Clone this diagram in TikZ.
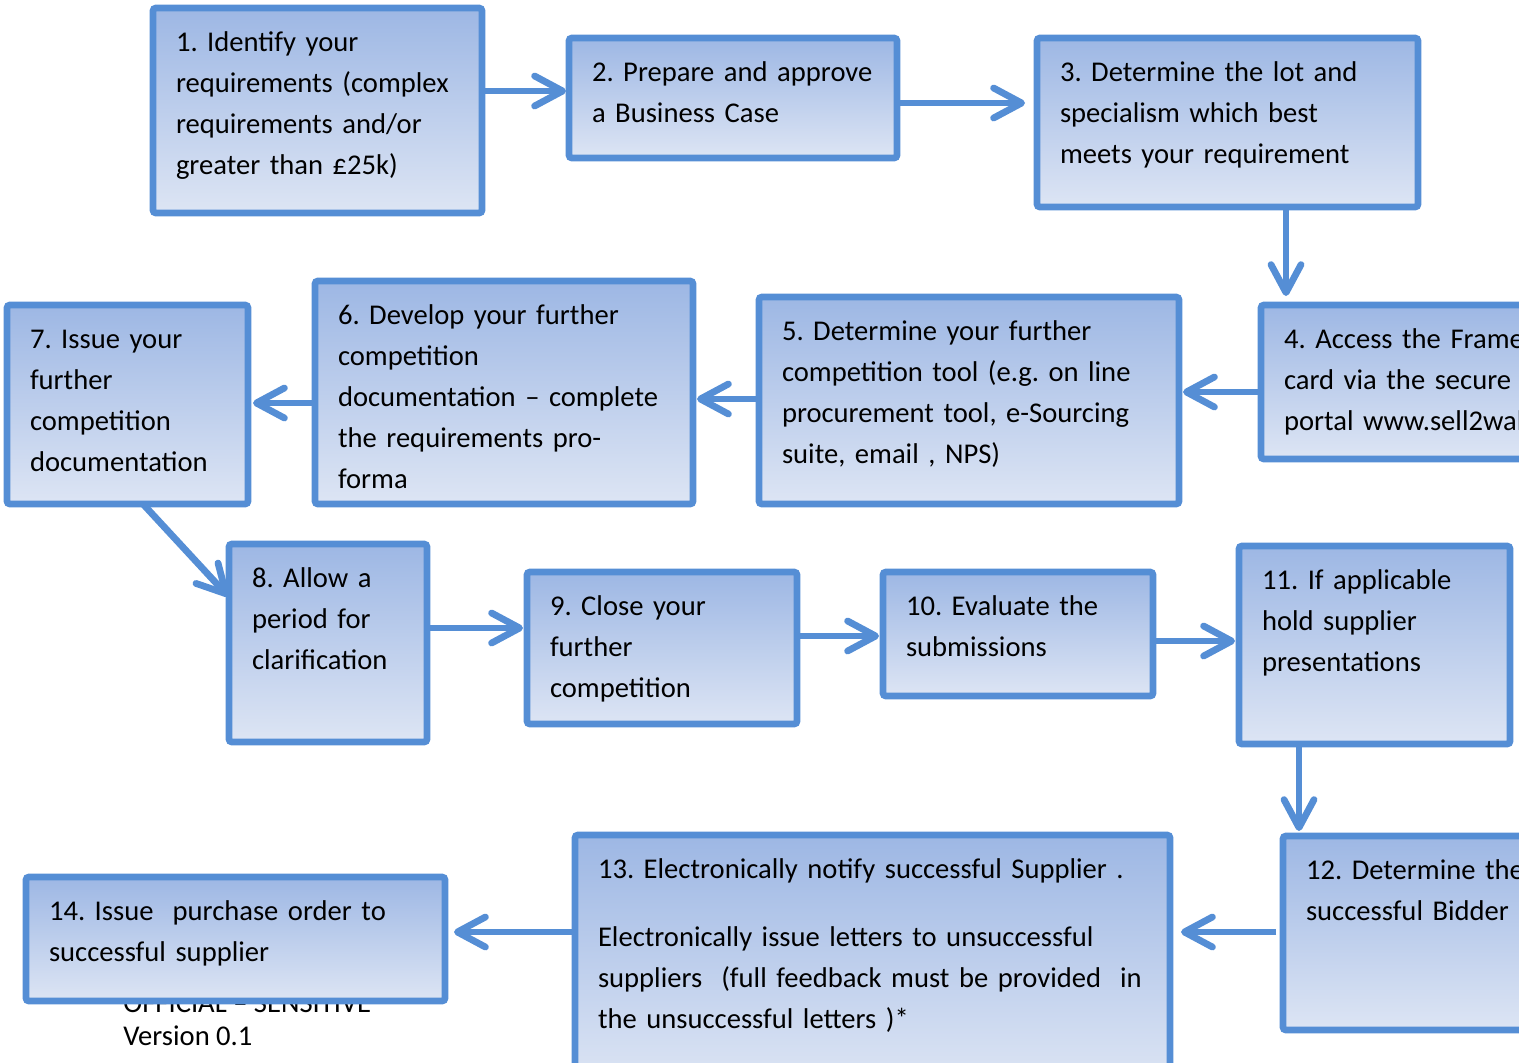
\documentclass[tikz,border=0pt]{standalone}
\usepackage{fontspec}
\setmainfont{Carlito}
\frenchspacing
\usetikzlibrary{arrows.meta}
\definecolor{stepblue}{RGB}{85,142,213}
\definecolor{steptop}{RGB}{157,183,228}
\definecolor{stepbottom}{RGB}{221,229,244}
\newcommand{\steplines}[1]{\begin{tabular}[t]{@{}l@{}}#1\end{tabular}}
\begin{document}
\begin{tikzpicture}[x=0.5pt, y=-0.5pt, font=\fontsize{14.3}{20.5}\selectfont,
    stepbox/.style 2 args={draw=stepblue, line width=3.4pt, rounded corners=1.5pt,
      top color=steptop, bottom color=stepbottom, anchor=north west, outer sep=0pt,
      inner xsep=11.5pt, inner ysep=0pt, text width={#1*0.5pt-23pt},
      text height=21.5pt, text depth={#2*0.5pt-21.5pt}},
    flow/.style={draw=stepblue, line width=3.4pt, -{Straight Barb[length=14pt, width=15pt, round]}}]
    \useasboundingbox (0,0) rectangle (1519,1062);
    \clip (0,0) rectangle (1519,1062);

    \node[anchor=base west, inner sep=0pt] (official) at (123,1012) {OFFICIAL – SENSITIVE};
    \node[anchor=base west, inner sep=0pt] (version) at (123,1045) {Version 0.1};

    \node[stepbox={329}{205}] (s1) at (153,8) {\steplines{1. Identify your\\requirements (complex\\requirements and/or\\greater than £25k)}};
    \node[stepbox={328}{120}] (s2) at (569,38) {\steplines{2. Prepare and approve\\a Business Case}};
    \node[stepbox={381}{169}] (s3) at (1037,38) {\steplines{3. Determine the lot and\\specialism which best\\meets your requirement}};
    \node[stepbox={400}{154}] (s4) at (1261,305) {\steplines{4. Access the Framework\\card via the secure e-Sourcing\\portal www.sell2wales.gov.wales}};
    \node[stepbox={420}{207}] (s5) at (759,297) {\steplines{5. Determine your further\\competition tool (e.g. on line\\procurement tool, e-Sourcing\\suite, email , NPS)}};
    \node[stepbox={378}{223}] (s6) at (315,281) {\steplines{6. Develop your further\\competition\\documentation – complete\\the requirements pro-\\forma}};
    \node[stepbox={241}{199}] (s7) at (7,305) {\steplines{7. Issue your\\further\\competition\\documentation}};
    \node[stepbox={198}{198}] (s8) at (229,544) {\steplines{8. Allow a\\period for\\clarification}};
    \node[stepbox={270}{152}] (s9) at (527,572) {\steplines{9. Close your\\further\\competition}};
    \node[stepbox={270}{124}] (s10) at (883,572) {\steplines{10. Evaluate the\\submissions}};
    \node[stepbox={271}{198}] (s11) at (1239,546) {\steplines{11. If applicable\\hold supplier\\presentations}};
    \node[stepbox={300}{194}] (s12) at (1283,836) {\steplines{12. Determine the\\successful Bidder}};
    \node[stepbox={595}{250}] (s13) at (575,835) {\steplines{13. Electronically notify successful Supplier .\\[13.5pt]Electronically issue letters to unsuccessful\\suppliers~ (full feedback must be provided~ in\\the unsuccessful letters )*}};
    \node[stepbox={419}{124}] (s14) at (26,877) {\steplines{14. Issue~ purchase order to\\successful supplier}};

    \draw[flow, shorten >=1.5pt] (s1.east |- 0,91) -- (s2.west |- 0,91);
    \draw[flow, shorten >=6pt] (s2.east |- 0,103) -- (s3.west |- 0,103);
    \draw[flow, shorten >=4.5pt] (s3.south -| 1286,0) -- (s4.north -| 1286,0);
    \draw[flow, shorten >=2pt] (s4.west |- 0,392) -- (s5.east |- 0,392);
    \draw[flow, shorten >=2pt] (s5.west |- 0,399) -- (s6.east |- 0,399);
    \draw[flow, shorten >=2.5pt] (s6.west |- 0,403) -- (s7.east |- 0,403);
    \draw[flow, shorten >=0.5pt] (s7.south -| 143,0) -- (s8.west |- 0,597);
    \draw[flow, shorten >=2pt] (s8.east |- 0,628) -- (s9.west |- 0,628);
    \draw[flow, shorten >=2pt] (s9.east |- 0,636) -- (s10.west |- 0,636);
    \draw[flow, shorten >=2pt] (s10.east |- 0,641) -- (s11.west |- 0,641);
    \draw[flow, shorten >=2.5pt] (s11.south -| 1299,0) -- (s12.north -| 1299,0);
    \draw[flow, shorten <=3.5pt, shorten >=5.5pt] (s12.west |- 0,932) -- (s13.east |- 0,932);
    \draw[flow, shorten >=4.5pt] (s13.west |- 0,932) -- (s14.east |- 0,932);
\end{tikzpicture}
\end{document}
